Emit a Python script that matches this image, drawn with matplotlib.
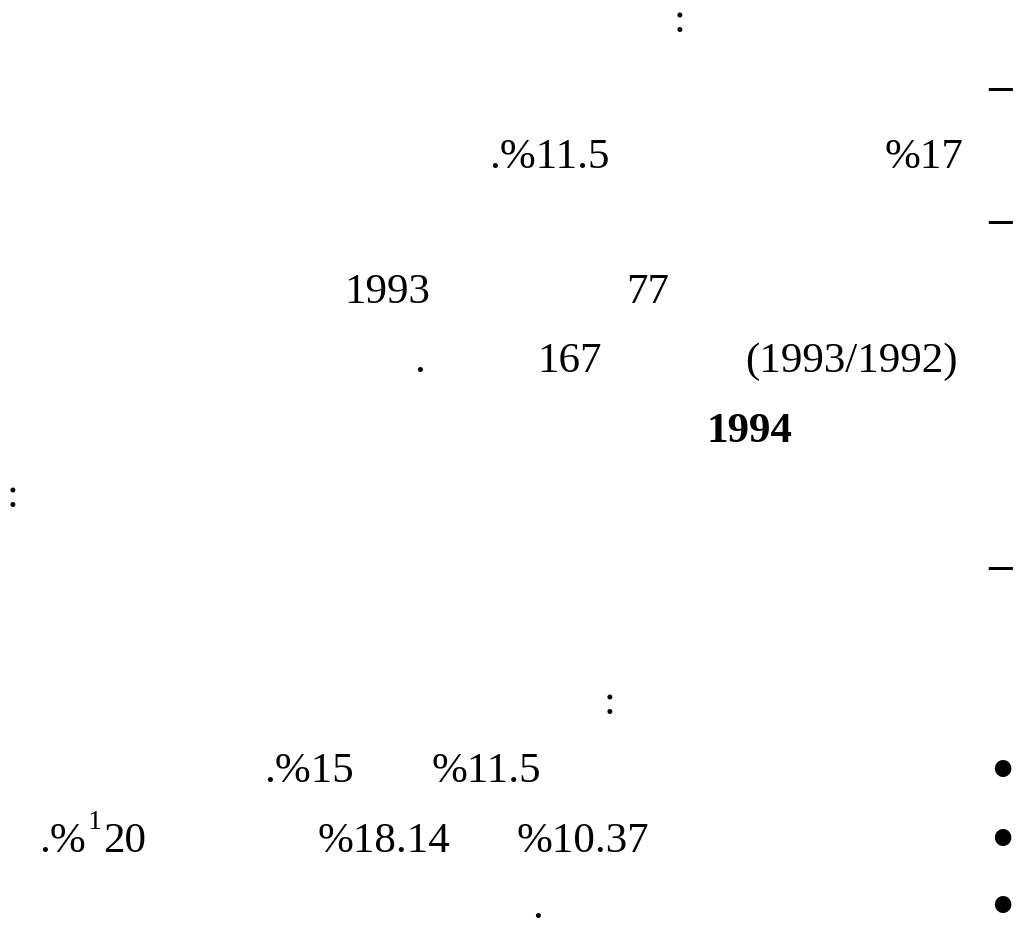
"""Scanned Arabic page where only digits and punctuation survived: rebuild the visible text.

Run: python3 plot.py  -> writes out.png (1016x925).
"""
import matplotlib
matplotlib.use("Agg")
import matplotlib.pyplot as plt  # noqa: E402
from matplotlib.font_manager import FontProperties  # noqa: E402
from matplotlib.textpath import TextPath  # noqa: E402

W, H, DPI = 1016, 925, 100
FONT = "Liberation Serif"
EM = 43  # body text size, pixels

# visible text fragments, line by line
heading_colon = ":"
dash = "–"
rates = [".%11.5", "%17"]
members = ["1993", "77"]
season = [".", "167", "(1993/1992)"]
year = "1994"
side_colon = ":"
list_colon = ":"
bullet = "•"
bullet_1 = [".%15", "%11.5"]
bullet_2 = [".%", "1", "20", "%18.14", "%10.37"]
bullet_3 = ["."]

# layout: ink left edge (px) and baseline (px from top)
RATES_POS = [(492, 168), (886, 168)]
MEMBERS_POS = [(348, 303), (629, 303)]
SEASON_POS = [(417, 372), (541, 372), (747, 372)]
B1_POS = [(267, 782), (433, 782)]
B2_POS = [(42, 852), (90, 829), (105, 852), (319, 852), (518, 852)]
B2_SIZE = [EM, 28, EM, EM, EM]
B3_POS = [(535, 918)]
DASH_Y = [89, 222, 568]          # ink centre
BULLET_Y = [769, 838, 905]       # ink centre


def ink(s, px, weight="normal"):
    fp = FontProperties(family=FONT, weight=weight)
    return TextPath((0, 0), s, size=px, prop=fp).get_extents()


def put(fig, s, left, y, px=EM, weight="normal", centre=False):
    e = ink(s, px, weight)
    base = y + (e.y0 + e.y1) / 2 if centre else y
    fig.text((left - e.x0) / W, 1 - base / H, s, fontsize=px * 72 / DPI,
             family=FONT, weight=weight, ha="left", va="baseline")


def dot(fig, s, cx, cy, diam):
    e = ink(s, 100)
    px = 100 * diam / e.width
    e = ink(s, px)
    fig.text((cx - (e.x0 + e.x1) / 2) / W, 1 - (cy + (e.y0 + e.y1) / 2) / H, s,
             fontsize=px * 72 / DPI, family=FONT, ha="left", va="baseline")


def main():
    fig = plt.figure(figsize=(W / DPI, H / DPI), dpi=DPI)
    fig.patch.set_facecolor("white")

    put(fig, heading_colon, 677, 32)
    for y in DASH_Y:
        put(fig, dash, 988, y, px=47, weight="bold", centre=True)
    for s, (x, y) in zip(rates, RATES_POS):
        put(fig, s, x, y)
    for s, (x, y) in zip(members, MEMBERS_POS):
        put(fig, s, x, y)
    for s, (x, y) in zip(season, SEASON_POS):
        put(fig, s, x, y)
    put(fig, year, 710, 442, weight="bold")
    put(fig, side_colon, 10, 507)
    put(fig, list_colon, 607, 714)

    for cy in BULLET_Y:
        dot(fig, bullet, 1002, cy, 16.5)
    for s, (x, y) in zip(bullet_1, B1_POS):
        put(fig, s, x, y)
    for s, (x, y), px in zip(bullet_2, B2_POS, B2_SIZE):
        put(fig, s, x, y, px=px)
    for s, (x, y) in zip(bullet_3, B3_POS):
        put(fig, s, x, y)

    fig.savefig("out.png", dpi=DPI, facecolor="white")
    plt.close(fig)


if __name__ == "__main__":
    main()
